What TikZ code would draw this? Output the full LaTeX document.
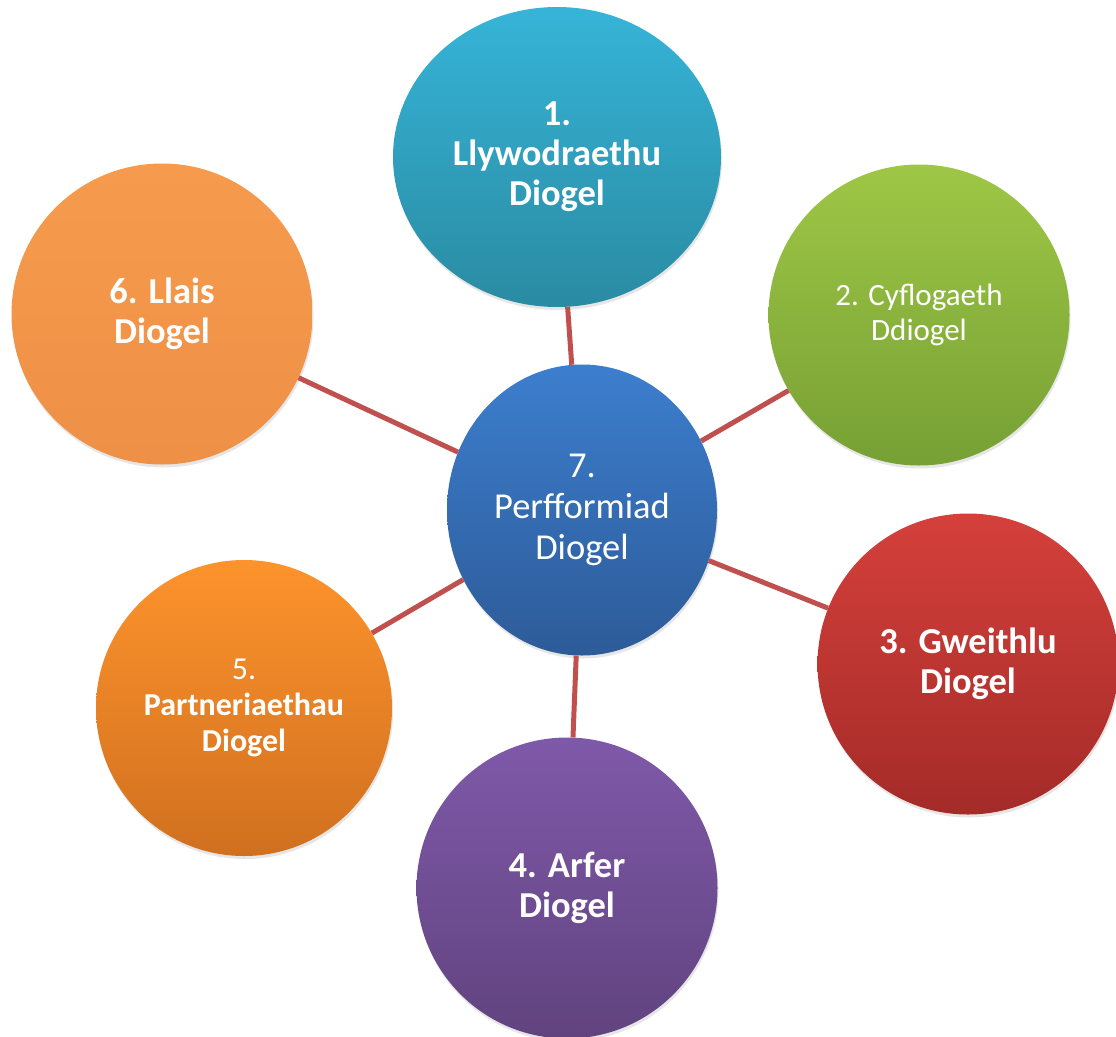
\documentclass[tikz,border=0pt]{standalone}
\usepackage{fontspec}
\setmainfont{Carlito}
\usetikzlibrary{shapes.geometric,shadows}
\definecolor{linkred}{HTML}{C0504D}
\definecolor{govtop}{HTML}{36B4D8}
\definecolor{govbot}{HTML}{2A8BA2}
\definecolor{emptop}{HTML}{9EC746}
\definecolor{empbot}{HTML}{77A035}
\definecolor{worktop}{HTML}{D5403B}
\definecolor{workbot}{HTML}{A42B28}
\definecolor{practop}{HTML}{7F59A9}
\definecolor{pracbot}{HTML}{61437F}
\definecolor{parttop}{HTML}{FD932C}
\definecolor{partbot}{HTML}{D0701F}
\definecolor{voicetop}{HTML}{F69B4D}
\definecolor{voicebot}{HTML}{EE9046}
\definecolor{perftop}{HTML}{3C7ECE}
\definecolor{perfbot}{HTML}{2D5B98}
\begin{document}
\begin{tikzpicture}[x=1pt, y=-1pt,
	bubble/.style={circle, minimum size=301, inner sep=0pt, align=center, text=white,
		drop shadow={opacity=0.2, shadow xshift=1pt, shadow yshift=-3pt}},
	boldtext/.style={font=\fontsize{36.5}{40}\selectfont\bfseries},
	bigtext/.style={font=\fontsize{36.5}{41}\selectfont},
	smalltext/.style={font=\fontsize{31}{35}\selectfont},
	link/.style={draw=linkred, line width=5pt}]
	\useasboundingbox (0, 0) rectangle (1116, 1036);
	
	\node[bubble, ellipse, minimum width=328, minimum height=300, top color=govtop, bottom color=govbot, boldtext] at (557, 157) (gov) {1.\\Llywodraethu\\Diogel};
	\node[bubble, top color=emptop, bottom color=empbot, smalltext] at (919, 315) (emp) {2. Cyflogaeth\\Ddiogel};
	\node[bubble, top color=worktop, bottom color=workbot, boldtext] at (968, 664) (work) {3. Gweithlu\\Diogel};
	\node[bubble, top color=practop, bottom color=pracbot, boldtext] at (567, 888) (prac) {4. Arfer\\Diogel};
	\node[bubble, minimum size=296, top color=parttop, bottom color=partbot, font=\fontsize{32}{36}\selectfont] at (244, 708) (part) {5.\\\textbf{Partneriaethau}\\\textbf{Diogel}};
	\node[bubble, top color=voicetop, bottom color=voicebot, boldtext] at (162, 314) (voice) {6. Llais\\Diogel};
	\node[bubble, ellipse, minimum width=270, minimum height=291, top color=perftop, bottom color=perfbot, bigtext] at (582, 510) (perf) {7.\\Perfformiad\\Diogel};
	
	\draw[link] (perf) -- (gov);
	\draw[link] (perf) -- (emp);
	\draw[link] (perf) -- (work);
	\draw[link] (perf) -- (prac);
	\draw[link] (perf) -- (part);
	\draw[link] (perf) -- (voice);
\end{tikzpicture}
\end{document}
